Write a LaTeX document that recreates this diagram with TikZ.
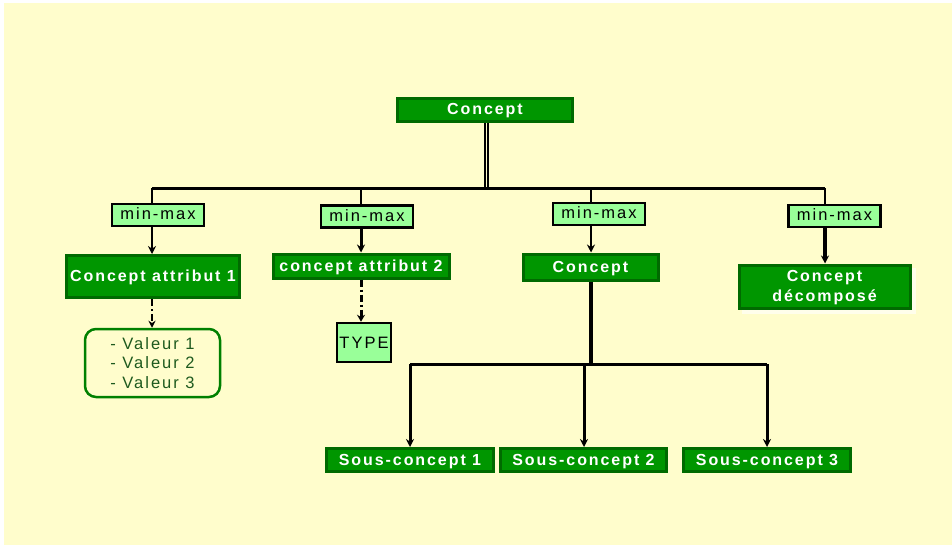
\documentclass[tikz,border=0pt]{standalone}
\usepackage{fontspec}
\setmainfont{Liberation Sans}
\newfontfamily\spacedfont[LetterSpace=12]{Liberation Sans}
\usetikzlibrary{arrows.meta}
\definecolor{bgyellow}{HTML}{FFFDCC}
\definecolor{dkgreen}{HTML}{009600}
\definecolor{dkborder}{HTML}{006A00}
\definecolor{ltgreen}{HTML}{99FF99}
\definecolor{valgreen}{HTML}{1E5A1E}
\definecolor{valborder}{HTML}{008000}
\tikzset{
  concbox/.style={draw=dkborder, line width=3pt, fill=dkgreen, text=white, inner sep=0pt,
    font=\spacedfont\bfseries\fontsize{16}{20}\selectfont, align=center, text depth=1pt},
  mmbox/.style={draw=black, line width=2.5pt, fill=ltgreen, inner sep=0pt,
    minimum width=92pt, minimum height=22pt, font=\spacedfont\fontsize{16.5}{18}\selectfont, text depth=2pt},
  valbox/.style={draw=valborder, line width=2.5pt, fill=bgyellow, rounded corners=11pt, inner sep=0pt,
    text=valgreen, align=center, font=\spacedfont\fontsize{16.5}{19.5}\selectfont},
  wire/.style={line width=2pt, draw=black},
  arr/.style={line width=2pt, draw=black, -{Stealth[length=8pt,width=8pt]}},
  dashdot/.style={dash pattern=on 7pt off 3pt on 2pt off 3pt},
}
\begin{document}
\begin{tikzpicture}[x=1pt,y=-1pt]
\fill[white] (0,0) rectangle (952,546);
\fill[bgyellow] (4,3) rectangle (952,545);
\useasboundingbox (0,0) rectangle (952,546);

% top concept
\node[concbox, minimum width=175pt, minimum height=23pt] (top) at (485,109.5) {Concept};

% min-max boxes
\node[mmbox] (mm1) at (158,215) {min-max};
\node[mmbox] (mm2) at (367,216.5) {min-max};
\node[mmbox] (mm3) at (599,214) {min-max};
\node[mmbox] (mm4) at (834.5,216) {min-max};

% second row concepts
\node[concbox, minimum width=173pt, minimum height=42pt] (ca1) at (153,276.5) {Concept attribut 1};
\node[concbox, minimum width=176pt, minimum height=24pt] (ca2) at (361,266) {concept attribut 2};
\node[concbox, minimum width=135pt, minimum height=26pt] (c3) at (590.5,267) {Concept};
\fill[white!60!bgyellow] (742,268) rectangle (916,314);
\node[concbox, minimum width=171pt, minimum height=43pt] (cd) at (824.5,286.5) {Concept\\décomposé};

% leaves
\node[valbox, minimum width=135pt, minimum height=68pt] (val) at (152.5,363) {- Valeur 1\\- Valeur 2\\- Valeur 3};
\node[draw=black, line width=2.5pt, fill=ltgreen, inner sep=0pt, minimum width=54pt, minimum height=39pt,
  font=\spacedfont\fontsize{16.5}{18}\selectfont, text depth=0pt] (type) at (364,342.5) {TYPE};

\node[concbox, minimum width=167pt, minimum height=23pt] (s1) at (410,460) {Sous-concept 1};
\node[concbox, minimum width=166pt, minimum height=23pt] (s2) at (583.5,460) {Sous-concept 2};
\node[concbox, minimum width=167pt, minimum height=23pt] (s3) at (767,460) {Sous-concept 3};

% coordinates
\coordinate (stem) at (486.5,188);
\coordinate (b1) at (152,188);
\coordinate (b2) at (361,188);
\coordinate (b3) at (591,188);
\coordinate (b4) at (825,188);
\coordinate (sb) at (591,364);
\coordinate (sb1) at (410,364);
\coordinate (sb2) at (584,364);
\coordinate (sb3) at (767,364);

% top stem (double line)
\draw[line width=1.6pt, double=bgyellow, double distance=1.4pt] (top.south -| stem) -- (stem);
% bus
\draw[line width=3pt] (b1) -- (b4);
\draw[wire] (b1) -- (b1 |- mm1.north);
\draw[wire] (b2) -- (b2 |- mm2.north);
\draw[wire] (b3) -- (b3 |- mm3.north);
\draw[wire] (b4) -- (b4 |- mm4.north);

% min-max to concepts
\draw[arr] (b1 |- mm1.south) -- (b1 |- ca1.north);
\draw[arr, line width=3pt] (b2 |- mm2.south) -- (b2 |- ca2.north);
\draw[arr] (b3 |- mm3.south) -- (b3 |- c3.north);
\draw[arr, line width=3.2pt] (b4 |- mm4.south) -- (b4 |- cd.north);

% dash-dot links
\draw[dashdot, line width=1.2pt, -{Stealth[length=7pt,width=7pt]}] (b1 |- ca1.south) -- (b1 |- val.north);
\draw[dashdot, line width=3pt, -{Stealth[length=7pt,width=8pt]}] (b2 |- ca2.south) -- (b2 |- type.north);

% sub-concept tree
\draw[line width=3.5pt] (c3.south -| sb) -- (sb);
\draw[line width=3pt] (sb1) -- (sb3);
\draw[arr, line width=3pt] (sb1) -- (sb1 |- s1.north);
\draw[arr, line width=3pt] (sb2) -- (sb2 |- s2.north);
\draw[arr, line width=3pt] (sb3) -- (sb3 |- s3.north);
\end{tikzpicture}
\end{document}
